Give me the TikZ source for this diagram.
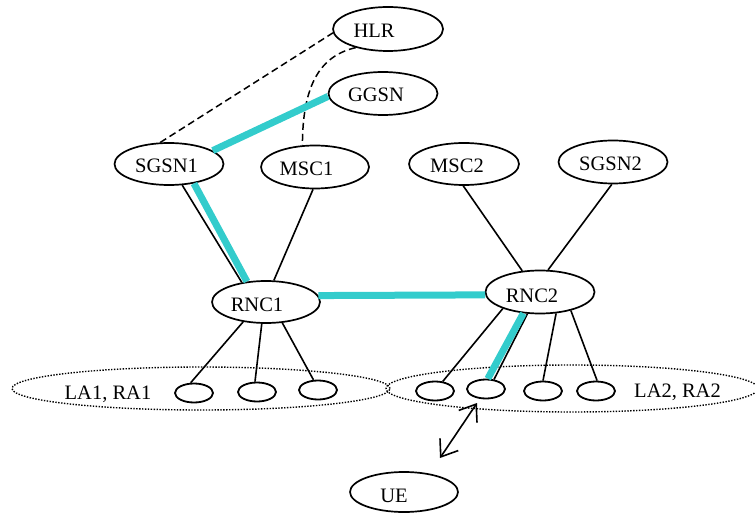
\documentclass[tikz,border=0pt]{standalone}
\usepackage{fontspec}
\setmainfont{Liberation Serif}
\usetikzlibrary{shapes.geometric,arrows.meta}
\definecolor{lnk}{HTML}{33CCCC}
\begin{document}
\begin{tikzpicture}[x=1pt,y=-1pt,
 el/.style={draw,ellipse,line width=1.7pt,inner sep=0pt,minimum width=109pt,minimum height=42pt},
 sm/.style={draw,ellipse,line width=1.8pt,inner sep=0pt,minimum width=38pt,minimum height=19pt},
 area/.style={draw,ellipse,line width=1.4pt,dash pattern=on 1.4pt off 1.5pt,inner sep=0pt},
 txt/.style={anchor=base,inner sep=0pt,font=\fontsize{20.5}{24}\selectfont},
 wire/.style={line width=1.6pt},
 fat/.style={line width=7pt,draw=lnk},
 dsh/.style={line width=1.5pt,dash pattern=on 7pt off 4pt},
 barb/.tip={Straight Barb[length=15pt,width=22pt]}]
\useasboundingbox (0,0) rectangle (755,513);
% areas
\node[area,minimum width=378pt,minimum height=43pt] (la1) at (201,388.5) {};
\node[area,minimum width=372pt,minimum height=47pt] (la2) at (572,388.5) {};
% main nodes
\node[el,minimum width=110pt,minimum height=44pt] (hlr) at (388,29) {};
\node[el,minimum height=43pt] (ggsn) at (383,93.5) {};
\node[el] (sgsn1) at (169,164) {};
\node[el,minimum width=108pt,minimum height=43pt] (msc1) at (315,167) {};
\node[el,minimum width=110pt] (msc2) at (464,164) {};
\node[el,minimum height=43pt] (sgsn2) at (613,162) {};
\node[el,minimum width=108pt] (rnc1) at (266,302) {};
\node[el,minimum height=43pt] (rnc2) at (540,292) {};
\node[el,minimum width=108pt,minimum height=40pt] (ue) at (404,492) {};
% cells
\node[sm] (a1) at (194,393) {};
\node[sm] (a2) at (257,392) {};
\node[sm] (a3) at (318,390) {};
\node[sm] (b1) at (435,391) {};
\node[sm] (b2) at (486,389) {};
\node[sm] (b3) at (543,391) {};
\node[sm] (b4) at (596,391) {};
% texts
\node[txt] (thlr) at (374,38) {HLR};
\node[txt] (tggsn) at (376,102) {GGSN};
\node[txt] (tsgsn1) at (166.5,173) {SGSN1};
\node[txt] (tmsc1) at (306.5,176) {MSC1};
\node[txt] (tmsc2) at (457,173) {MSC2};
\node[txt] (tsgsn2) at (610.5,171) {SGSN2};
\node[txt] (trnc1) at (257,311) {RNC1};
\node[txt] (trnc2) at (532,302) {RNC2};
\node[txt] (tue) at (394,502) {UE};
\node[txt] (tla1) at (108,399) {LA1, RA1};
\node[txt] (tla2) at (677.5,397) {LA2, RA2};
% signalling
\draw[dsh] (sgsn1.112) -- (hlr.184);
\draw[dsh] (hlr.210) .. controls +(-35,8) and +(0,-61) .. (msc1.120);
% black links
\draw[wire] (sgsn1.-58.6) -- (rnc1.141.6);
\draw[wire] (msc1.-95) -- (rnc1.70.7);
\draw[wire] (msc2.-92.5) -- (rnc2.130);
\draw[wire] (sgsn2.-93) -- (rnc2.70);
\draw[wire] (rnc1.221.5) -- (a1.108);
\draw[wire] (rnc1.259) -- (a2.101);
\draw[wire] (rnc1.308) -- (a3.114);
\draw[wire] (rnc2.204.7) -- (b1.51);
\draw[wire] (rnc2.240) -- (b2.50.7);
\draw[wire] (rnc2.307) -- (b3.90);
\draw[wire] (rnc2.329) -- (b4.84);
% user plane (cyan)
\draw[fat] (sgsn1.17.7) -- (ggsn.183);
\draw[fat] (sgsn1.-38.9) -- (rnc1.133.5);
\draw[fat] (rnc1.7.6) -- (rnc2.183.8);
\draw[fat] (rnc2.232) -- (b2.80.5);
% radio link
\coordinate (ua) at (477,403);
\coordinate (ub) at (440,458);
\draw[wire,barb-barb] (ua) -- (ub);
\end{tikzpicture}
\end{document}
